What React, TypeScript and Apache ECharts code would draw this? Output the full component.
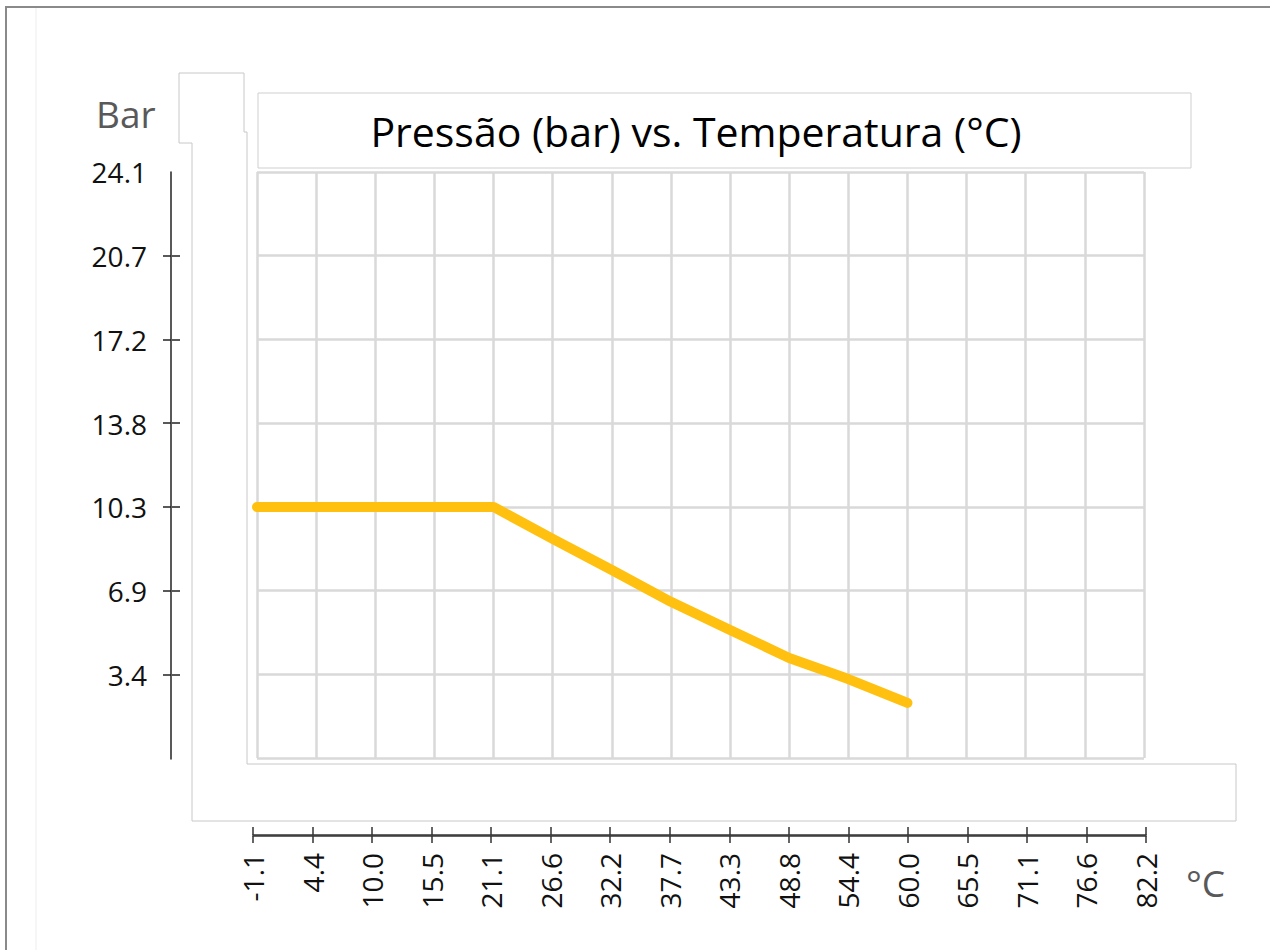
import React, { useEffect, useRef } from "react";
import * as echarts from "echarts";

const temperatures = ["-1.1", "4.4", "10.0", "15.5", "21.1", "26.6", "32.2", "37.7", "43.3", "48.8", "54.4", "60.0", "65.5", "71.1", "76.6", "82.2"];
const pressures = [10.34, 10.34, 10.34, 10.34, 10.34, 9.02, 7.74, 6.43, 5.27, 4.12, 3.25, 2.27];
const yStep = 3.4474;
const yTickCount = 7;
const yMax = yStep * yTickCount;

const titleText = "Pressão (bar) vs. Temperatura (°C)";
const yName = "Bar";
const xName = "°C";

const FONT = "'Open Sans', 'Noto Sans', sans-serif";

const PLOT_TOP = 172;
const PLOT_H = 586;
const STEP_PX = PLOT_H / yTickCount;

export default function App() {
  const ref = useRef<HTMLDivElement>(null);
  useEffect(() => {
    if (!ref.current) return;
    const chart = echarts.init(ref.current, null, { renderer: "svg" });
    const gridLine = { show: true, lineStyle: { color: "#d9d9d9", width: 2.5 } };
    const hidden = { show: false };
    const tickStyle = { color: "#222222", width: 1.5 };
    const invisibleAxis = { axisLine: hidden, axisTick: hidden, axisLabel: hidden, splitLine: hidden };
    const option: any = {
      animation: false,
      backgroundColor: "#ffffff",
      textStyle: { fontFamily: FONT },
      graphic: [
        { type: "rect", shape: { x: 6, y: 7, width: 1300, height: 1000 }, style: { fill: "none", stroke: "#8a8a8a", lineWidth: 2 }, z: -10 },
        { type: "line", shape: { x1: 36, y1: 8, x2: 36, y2: 950 }, style: { stroke: "#ededed", lineWidth: 1 }, z: -10 },
        {
          type: "polygon",
          shape: { points: [[179, 73], [244, 73], [244, 132], [247, 132], [247, 764], [1236, 764], [1236, 821], [192, 821], [192, 143], [179, 143]] },
          style: { fill: "none", stroke: "#c8c8c8", lineWidth: 1 },
          z: -10,
        },
        { type: "rect", shape: { x: 258, y: 93, width: 933, height: 75 }, style: { fill: "#ffffff", stroke: "#cfcfcf", lineWidth: 1 }, z: -5 },
        { type: "text", x: 696, y: 131, style: { text: titleText, fontSize: 41, fontFamily: FONT, fill: "#000000", align: "center", verticalAlign: "middle" } },
        { type: "text", x: 96, y: 113, style: { text: yName, fontSize: 37, fontFamily: FONT, fill: "#595959", align: "left", verticalAlign: "middle" } },
        { type: "text", x: 1186, y: 882, style: { text: xName, fontSize: 37, fontFamily: FONT, fill: "#595959", align: "left", verticalAlign: "middle" } },
      ],
      grid: [
        { left: 257, top: PLOT_TOP, width: 887, height: PLOT_H },
        { left: 171, top: PLOT_TOP, width: 1, height: PLOT_H + 1 },
        { left: 253, top: 835, width: 893, height: 1 },
        { left: 171, top: PLOT_TOP + STEP_PX, width: 1, height: STEP_PX * 5 },
      ],
      xAxis: [
        { gridIndex: 0, type: "category", data: temperatures, boundaryGap: false, axisLine: hidden, axisTick: hidden, axisLabel: hidden, splitLine: gridLine },
        { gridIndex: 1, type: "value", min: 0, max: 1, ...invisibleAxis },
        {
          gridIndex: 2, type: "category", data: temperatures, boundaryGap: false, position: "bottom",
          axisLine: { show: true, lineStyle: { color: "#333333", width: 1.5 } },
          axisTick: { show: true, inside: false, length: 7, lineStyle: { color: "#333333", width: 1.5 } },
          axisLabel: { show: true, rotate: 90, margin: 17, fontSize: 28, color: "#111111", fontFamily: FONT, interval: 0 },
          splitLine: hidden,
        },
        {
          gridIndex: 2, type: "category", data: temperatures, boundaryGap: false, position: "top",
          axisLine: { show: true, lineStyle: { color: "#333333", width: 1.5 } },
          axisTick: { show: true, inside: false, length: 8, lineStyle: { color: "#333333", width: 1.5 } },
          axisLabel: hidden,
          splitLine: hidden,
        },
        { gridIndex: 3, type: "value", min: 0, max: 1, ...invisibleAxis },
      ],
      yAxis: [
        { gridIndex: 0, type: "value", min: 0, max: yMax, interval: yStep, axisLine: hidden, axisTick: hidden, axisLabel: hidden, splitLine: gridLine },
        {
          gridIndex: 1, type: "value", min: 0, max: yMax, interval: yStep, position: "left",
          axisLine: { show: true, lineStyle: tickStyle },
          axisTick: hidden,
          axisLabel: { show: true, margin: 24, fontSize: 28, color: "#111111", fontFamily: FONT, formatter: (v: number) => (v === 0 ? "" : v.toFixed(1)) },
          splitLine: hidden,
        },
        {
          gridIndex: 3, type: "value", min: yStep, max: yStep * 6, interval: yStep, position: "left",
          axisLine: hidden,
          axisTick: { show: true, inside: false, length: 8, lineStyle: tickStyle },
          axisLabel: hidden,
          splitLine: hidden,
        },
        {
          gridIndex: 3, type: "value", min: yStep, max: yStep * 6, interval: yStep, position: "right",
          axisLine: hidden,
          axisTick: { show: true, inside: false, length: 8, lineStyle: tickStyle },
          axisLabel: hidden,
          splitLine: hidden,
        },
        { gridIndex: 2, type: "value", min: 0, max: 1, ...invisibleAxis },
      ],
      series: [
        {
          type: "line",
          xAxisIndex: 0,
          yAxisIndex: 0,
          data: pressures,
          symbol: "none",
          lineStyle: { color: "#FFC010", width: 10, cap: "round", join: "round" },
          z: 5,
        },
      ],
    };
    chart.setOption(option);
    return () => chart.dispose();
  }, []);
  return <div ref={ref} style={{ position: "fixed", left: 0, top: 0, width: 1270, height: 950 }} />;
}
